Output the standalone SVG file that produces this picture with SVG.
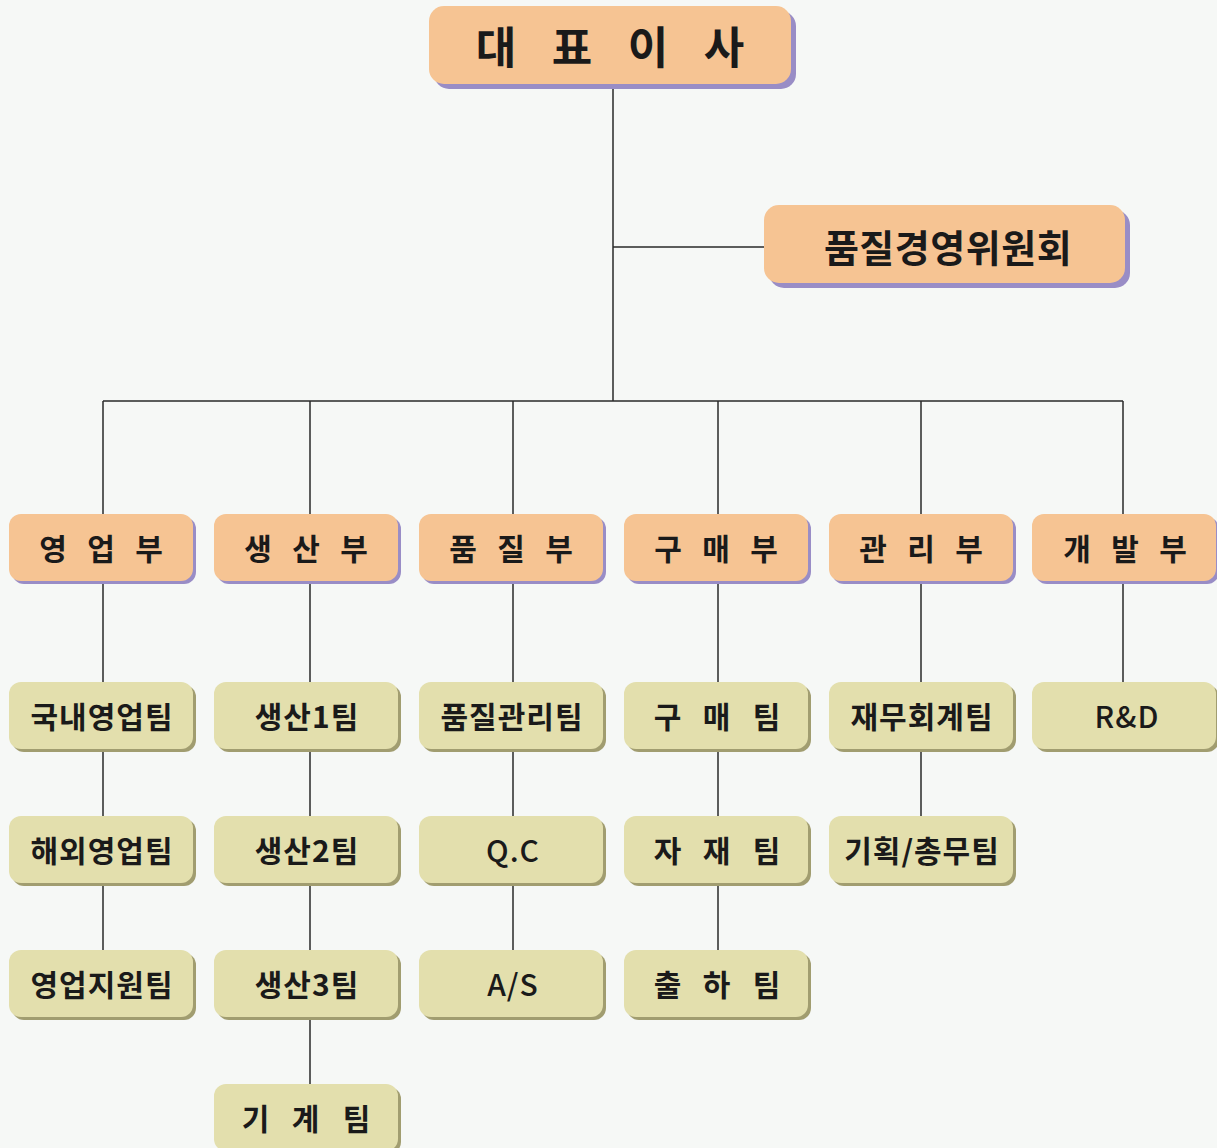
<svg xmlns="http://www.w3.org/2000/svg" width="1217" height="1148" viewBox="0 0 1217 1148">
<style>
.bg{fill:#f6f8f6}
.o{fill:#f6c493}
.os{fill:#998dc6}
.t{fill:#e3dfad}
.ts{fill:#a19d70}
.ln{stroke:#2a2a2a;stroke-width:1.5;fill:none}
text{font-family:"Noto Sans CJK KR","Noto Sans",sans-serif;font-weight:700;fill:#1a1a1a;text-anchor:middle;dominant-baseline:central}
.big{font-size:44px}
.cm{font-size:38px;letter-spacing:0.5px}
.dp{font-size:30px}
.tm{font-size:30px;letter-spacing:1px}
.lt{font-weight:500}
</style>
<rect class="bg" x="0" y="0" width="1217" height="1148"/>
<g id="connectors" class="ln">
<path d="M613 84V401M613 247H764M103 401H1123"/>
<path d="M103 401V950M310 401V1084M513 401V950M718 401V950M921 401V816M1123 401V682"/>
</g>
<g id="ceo"><rect class="os" x="434" y="11" width="362" height="78" rx="15"/><rect class="o" x="429" y="6" width="362" height="78" rx="15"/><text class="big" x="496 572 648 724" y="45">대표이사</text></g>
<g id="committee"><rect class="os" x="769" y="210" width="361" height="78" rx="15"/><rect class="o" x="764" y="205" width="361" height="78" rx="15"/><text class="cm" x="948" y="245">품질경영위원회</text></g>
<g id="dept-sales"><rect class="os" x="12" y="517" width="184" height="67" rx="12"/><rect class="o" x="9" y="514" width="184" height="67" rx="12"/><text class="dp" x="53 101 149" y="547">영업부</text></g>
<g id="dept-prod"><rect class="os" x="217" y="517" width="184" height="67" rx="12"/><rect class="o" x="214" y="514" width="184" height="67" rx="12"/><text class="dp" x="258 306 354" y="547">생산부</text></g>
<g id="dept-quality"><rect class="os" x="422" y="517" width="184" height="67" rx="12"/><rect class="o" x="419" y="514" width="184" height="67" rx="12"/><text class="dp" x="463 511 559" y="547">품질부</text></g>
<g id="dept-purchase"><rect class="os" x="627" y="517" width="184" height="67" rx="12"/><rect class="o" x="624" y="514" width="184" height="67" rx="12"/><text class="dp" x="668 716 764" y="547">구매부</text></g>
<g id="dept-admin"><rect class="os" x="832" y="517" width="184" height="67" rx="12"/><rect class="o" x="829" y="514" width="184" height="67" rx="12"/><text class="dp" x="873 921 969" y="547">관리부</text></g>
<g id="dept-dev"><rect class="os" x="1035" y="517" width="184" height="67" rx="12"/><rect class="o" x="1032" y="514" width="184" height="67" rx="12"/><text class="dp" x="1077 1125 1173" y="547">개발부</text></g>
<g id="team-domestic"><rect class="ts" x="12" y="685" width="184" height="67" rx="12"/><rect class="t" x="9" y="682" width="184" height="67" rx="12"/><text class="tm" x="102" y="715">국내영업팀</text></g>
<g id="team-overseas"><rect class="ts" x="12" y="819" width="184" height="67" rx="12"/><rect class="t" x="9" y="816" width="184" height="67" rx="12"/><text class="tm" x="102" y="849">해외영업팀</text></g>
<g id="team-salessupport"><rect class="ts" x="12" y="953" width="184" height="67" rx="12"/><rect class="t" x="9" y="950" width="184" height="67" rx="12"/><text class="tm" x="102" y="983">영업지원팀</text></g>
<g id="team-prod1"><rect class="ts" x="217" y="685" width="184" height="67" rx="12"/><rect class="t" x="214" y="682" width="184" height="67" rx="12"/><text class="tm" x="307" y="715">생산1팀</text></g>
<g id="team-prod2"><rect class="ts" x="217" y="819" width="184" height="67" rx="12"/><rect class="t" x="214" y="816" width="184" height="67" rx="12"/><text class="tm" x="307" y="849">생산2팀</text></g>
<g id="team-prod3"><rect class="ts" x="217" y="953" width="184" height="67" rx="12"/><rect class="t" x="214" y="950" width="184" height="67" rx="12"/><text class="tm" x="307" y="983">생산3팀</text></g>
<g id="team-machine"><rect class="ts" x="217" y="1087" width="184" height="67" rx="12"/><rect class="t" x="214" y="1084" width="184" height="67" rx="12"/><text class="tm" x="256 306 357" y="1117">기계팀</text></g>
<g id="team-qm"><rect class="ts" x="422" y="685" width="184" height="67" rx="12"/><rect class="t" x="419" y="682" width="184" height="67" rx="12"/><text class="tm" x="512" y="715">품질관리팀</text></g>
<g id="team-qc"><rect class="ts" x="422" y="819" width="184" height="67" rx="12"/><rect class="t" x="419" y="816" width="184" height="67" rx="12"/><text class="tm lt" x="513" y="849">Q.C</text></g>
<g id="team-as"><rect class="ts" x="422" y="953" width="184" height="67" rx="12"/><rect class="t" x="419" y="950" width="184" height="67" rx="12"/><text class="tm lt" x="513" y="983">A/S</text></g>
<g id="team-purchase"><rect class="ts" x="627" y="685" width="184" height="67" rx="12"/><rect class="t" x="624" y="682" width="184" height="67" rx="12"/><text class="tm" x="668 717 767" y="715">구매팀</text></g>
<g id="team-material"><rect class="ts" x="627" y="819" width="184" height="67" rx="12"/><rect class="t" x="624" y="816" width="184" height="67" rx="12"/><text class="tm" x="668 717 767" y="849">자재팀</text></g>
<g id="team-shipping"><rect class="ts" x="627" y="953" width="184" height="67" rx="12"/><rect class="t" x="624" y="950" width="184" height="67" rx="12"/><text class="tm" x="668 717 767" y="983">출하팀</text></g>
<g id="team-finance"><rect class="ts" x="832" y="685" width="184" height="67" rx="12"/><rect class="t" x="829" y="682" width="184" height="67" rx="12"/><text class="tm" x="922" y="715">재무회계팀</text></g>
<g id="team-planning"><rect class="ts" x="832" y="819" width="184" height="67" rx="12"/><rect class="t" x="829" y="816" width="184" height="67" rx="12"/><text class="tm" x="922" y="849">기획/총무팀</text></g>
<g id="team-rnd"><rect class="ts" x="1035" y="685" width="184" height="67" rx="12"/><rect class="t" x="1032" y="682" width="184" height="67" rx="12"/><text class="tm lt" x="1127" y="715">R&amp;D</text></g>
</svg>
